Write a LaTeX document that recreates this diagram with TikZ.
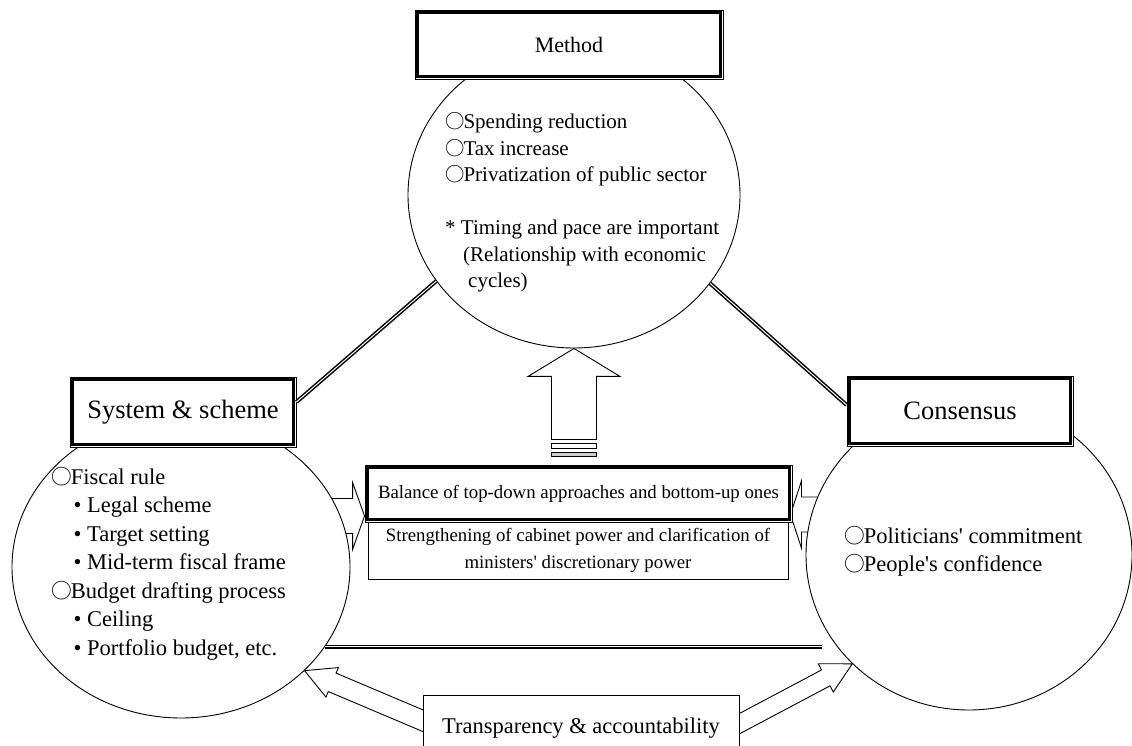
\documentclass[tikz,border=0pt]{standalone}
\usepackage{fontspec}
\setmainfont{Liberation Serif}
\newfontfamily\cjk[Scale=0.92]{Noto Sans CJK JP}
\usepackage{tikz}
\usetikzlibrary{shapes.geometric,calc,backgrounds}

\newcommand\ring{{\cjk ○}\kern-1pt}
% block arrow: from, to, half shaft, half head, head length
\newcommand\blockarrow[5]{%
	\coordinate (bahead) at ($(#2)!#5!(#1)$);
	\draw[fill=white, line width=0.9pt, line join=miter] ($(#1)!#3!90:(#2)$) -- ($(bahead)!#3!90:(#2)$)
		-- ($(bahead)!#4!90:(#2)$) -- (#2) -- ($(bahead)!#4!-90:(#2)$)
		-- ($(bahead)!#3!-90:(#2)$) -- ($(#1)!#3!-90:(#2)$) -- cycle;}

\begin{document}
\begin{tikzpicture}[x=1pt, y=1pt,
	box/.style={draw, line width=0.9pt, fill=white, inner sep=2pt},
	dbox/.style={box},
	oval/.style={draw, line width=0.9pt, fill=white, ellipse, inner sep=0pt},
	dline/.style={double, double distance=1pt, line width=1.5pt},
	items/.style={align=left, inner sep=0pt}]
	\useasboundingbox (0,0) rectangle (1132,746);
	\clip (0,0) rectangle (1132,746);

	% the three circles
	\node[oval, minimum width=332pt, minimum height=306pt] (tcirc) at (574,551) {};
	\node[oval, minimum width=338pt, minimum height=302pt] (lcirc) at (181,179) {};
	\node[oval, minimum width=326pt, minimum height=310pt] (rcirc) at (969,191) {};

	% titles and middle boxes
	\node[dbox, minimum width=308pt, minimum height=69pt, font=\fontsize{22}{26}\selectfont] (meth) at (569,701.5) {Method};
	\node[dbox, minimum width=226pt, minimum height=70pt, font=\fontsize{26.5}{30}\selectfont] (sys) at (183,334) {System \& scheme};
	\node[dbox, minimum width=226pt, minimum height=70pt, font=\fontsize{26.5}{30}\selectfont] (cons) at (960,335) {Consensus};
	\node[dbox, minimum width=427pt, minimum height=57pt, font=\fontsize{18.8}{27}\selectfont] (bal) at (578.5,252.5) {Balance of top-down approaches and bottom-up ones};
	\node[box, minimum width=420pt, minimum height=57pt, align=center, font=\fontsize{18.8}{27}\selectfont] (stren) at (578,195.5) {Strengthening of cabinet power and clarification of\\ ministers\textquotesingle{} discretionary power};
	\foreach \n in {meth,sys,cons,bal}
		\draw[line width=2.2pt] ([shift={(3pt,3pt)}]\n.south west) rectangle ([shift={(-3pt,-3pt)}]\n.north east);
	\node[box, minimum width=316pt, minimum height=66pt, font=\fontsize{22.5}{27}\selectfont] (trans) at (581,18) {Transparency \& accountability};

	% texts in the circles
	\node[items, font=\fontsize{21}{26.5}\selectfont, anchor=west] (methitems) at (445,543.3) {\ring Spending reduction\\ \ring Tax increase\\ \ring Privatization of public sector\\[26.5pt] * Timing and pace are important\\ \hspace*{18pt}(Relationship with economic\\ \hspace*{23pt}cycles)};
	\node[items, font=\fontsize{22.5}{28.5}\selectfont, anchor=west] (sysitems) at (51,182.5) {\ring Fiscal rule\\ \quad• Legal scheme\\ \quad• Target setting\\ \quad• Mid-term fiscal frame\\ \ring Budget drafting process\\ \quad• Ceiling\\ \quad• Portfolio budget, etc.};
	\node[items, font=\fontsize{22.5}{28}\selectfont, anchor=west] (consitems) at (844,195) {\ring Politicians\textquotesingle{} commitment\\ \ring People\textquotesingle{}s confidence};

	% double links
	\draw[dline] (tcirc.212) -- ($(sys.east)+(0,10)$);
	\draw[dline] (tcirc.327) -- ($(cons.west)+(0,6)$);
	\draw[dline] (lcirc.331) -- ($(lcirc.331 -| rcirc.west)+(16,0)$);

	% big arrow up
	\coordinate (uptail) at ($(tcirc.south |- bal.north)+(0,25)$);
	\blockarrow{uptail}{tcirc.south}{22.5pt}{46pt}{28pt}
	\draw[fill=white, line width=0.9pt] ($(uptail)+(-22.5,-4)$) rectangle ++(45,-5);
	\draw[fill=gray!40, line width=0.9pt] ($(uptail)+(-22.5,-13)$) rectangle ++(45,-4);

	\begin{scope}[on background layer]
		% side arrows into the middle box
		\coordinate (ltip) at ($(bal.west)+(0,-22.5)$);
		\coordinate (ltail) at (lcirc.center |- ltip);
		\coordinate (rtip) at ($(bal.east)+(-2,-21)$);
		\coordinate (rtail) at (rcirc.center |- rtip);
		\blockarrow{ltail}{ltip}{17.5pt}{33.5pt}{12pt}
		\blockarrow{rtail}{rtip}{17.5pt}{33.5pt}{11pt}
		% arrows from transparency
		\coordinate (bltail) at ($(trans.west)+(27,-4)$);
		\coordinate (brtail) at ($(trans.east)+(-27,-10)$);
		\blockarrow{bltail}{lcirc.320}{10pt}{16pt}{30pt}
		\blockarrow{brtail}{rcirc.223}{9pt}{16pt}{30pt}
	\end{scope}
\end{tikzpicture}
\end{document}
